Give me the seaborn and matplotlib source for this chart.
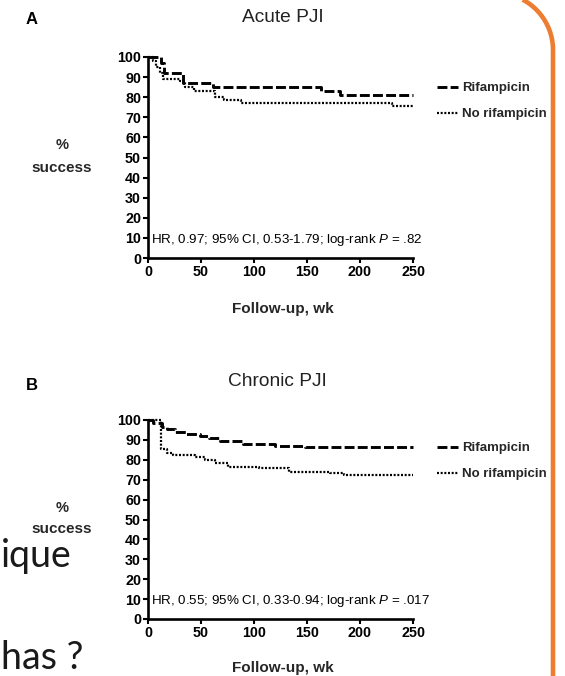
import numpy as np
import pandas as pd
import seaborn as sns
import matplotlib
matplotlib.use("Agg")
import matplotlib.pyplot as plt
from matplotlib.lines import Line2D

# Kaplan-Meier step values (weeks, % success)
acute_weeks_rif = [0, 12, 15, 33, 61, 163, 181, 250]
acute_pct_rif = [100, 97, 92, 87, 85, 83, 81, 81]
acute_weeks_norif = [0, 5, 8, 11, 14, 30, 35, 43, 63, 72, 88, 230, 250]
acute_pct_norif = [100, 98, 95, 92, 89, 88, 85, 83, 80, 78.5, 77, 75.5, 75.5]

chronic_weeks_rif = [0, 5, 13, 18, 25, 36, 49, 58, 68, 90, 120, 148, 250]
chronic_pct_rif = [100, 98.3, 96.5, 95.3, 93.8, 92.8, 92, 90.8, 89.5, 88, 87, 86.3, 86.3]
chronic_weeks_norif = [0, 12, 18, 24, 44, 54, 63, 75, 105, 133, 172, 185, 250]
chronic_pct_norif = [100, 85.5, 83.2, 82.4, 81.3, 79.9, 78.2, 76.5, 75.7, 74, 73.2, 72.4, 72.4]

groups = ["Rifampicin", "No rifampicin"]
panel_titles = ["Acute PJI", "Chronic PJI"]
panel_letters = ["A", "B"]
stats_text = [
    "HR, 0.97; 95% CI, 0.53-1.79; log-rank $\\it{P}$ = .82",
    "HR, 0.55; 95% CI, 0.33-0.94; log-rank $\\it{P}$ = .017",
]
x_ticks = [0, 50, 100, 150, 200, 250]
y_ticks = list(range(0, 101, 10))

sns.set_theme(style="ticks")
plt.rcParams["font.family"] = ["Liberation Sans", "DejaVu Sans"]
plt.rcParams["mathtext.fontset"] = "custom"
plt.rcParams["mathtext.it"] = "Liberation Sans:italic"

W, H = 565, 676
fig = plt.figure(figsize=(W / 100, H / 100), dpi=100)
fig.patch.set_facecolor("white")


def px(x, y):
    return x / W, 1 - y / H


panels = [
    (acute_weeks_rif, acute_pct_rif, acute_weeks_norif, acute_pct_norif),
    (chronic_weeks_rif, chronic_pct_rif, chronic_weeks_norif, chronic_pct_norif),
]
# pixel layout of each panel
layout = [
    dict(top=57, bot=258, title=17, letter=20, pct=145, succ=168, xlab=309, leg=82, title_x=283),
    dict(top=420, bot=619, title=381, letter=386, pct=508, succ=529, xlab=668, leg=442, title_x=277),
]

style = {
    "Rifampicin": dict(lw=2.1, ls=(0, (3.4, 1.1))),
    "No rifampicin": dict(lw=1.6, ls=(0, (0.9, 0.75))),
}

for i, (wr, pr, wn, pn) in enumerate(panels):
    L = layout[i]
    x0, x1 = 148, 413
    ax = fig.add_axes([x0 / W, 1 - L["bot"] / H, (x1 - x0) / W, (L["bot"] - L["top"]) / H])
    df = pd.concat([
        pd.DataFrame({"week": wr, "pct": pr, "group": groups[0]}),
        pd.DataFrame({"week": wn, "pct": pn, "group": groups[1]}),
    ])
    handles = []
    for g in groups:
        sub = df[df["group"] == g]
        sns.lineplot(data=sub, x="week", y="pct", ax=ax, color="black",
                     linewidth=style[g]["lw"], linestyle=style[g]["ls"],
                     drawstyle="steps-post", estimator=None, clip_on=False,
                     dash_capstyle="butt")
        handles.append(Line2D([], [], color="black", lw=style[g]["lw"], ls=style[g]["ls"],
                              dash_capstyle="butt"))
    ax.set_xlim(0, 250)
    ax.set_ylim(0, 100)
    ax.set_xticks(x_ticks)
    ax.set_yticks(y_ticks)
    ax.set_xlabel("")
    ax.set_ylabel("")
    sns.despine(ax=ax)
    for s in ["left", "bottom"]:
        ax.spines[s].set_linewidth(1.9)
        ax.spines[s].set_color("black")
    ax.tick_params(axis="both", length=3.5, width=1.5, color="black", pad=1.5,
                   labelsize=10.3, labelcolor="black")
    for lab in ax.get_xticklabels() + ax.get_yticklabels():
        lab.set_fontweight("bold")
    ax.set_facecolor("white")
    ax.text(3, 9, stats_text[i], fontsize=9.6, va="center", ha="left", color="black")

    fig.text(*px(L["title_x"], L["title"]), panel_titles[i], fontsize=13.8, ha="center",
             va="center", color="#222222")
    fig.text(*px(32, L["letter"]), panel_letters[i], fontsize=12, fontweight="bold",
             ha="center", va="center", color="black")
    fig.text(*px(62, L["pct"]), "%", fontsize=10.5, fontweight="bold", ha="center", va="center")
    fig.text(*px(62, L["succ"]), "success", fontsize=11, fontweight="bold", ha="center",
             va="center")
    fig.text(*px(283, L["xlab"]), "Follow-up, wk", fontsize=11, fontweight="bold",
             ha="center", va="center")
    fig.legend(handles, groups, loc="upper left", bbox_to_anchor=px(437, L["leg"]),
               frameon=False, handlelength=1.6, handletextpad=0.3,
               labelspacing=1.05, borderpad=0, borderaxespad=0,
               prop={"weight": "bold", "size": 9.5})

# slide text partly cut off at the left edge
fig.text(*px(1, 567), "ique", fontsize=27, family=["Lato", "DejaVu Sans"],
         ha="left", va="baseline", color="#1a1a1a")
fig.text(*px(1, 669), "has ?", fontsize=27, family=["Lato", "DejaVu Sans"],
         ha="left", va="baseline", color="#1a1a1a")

# orange rounded frame on the right
cx, cy, r = 496, 50, 57
t = np.linspace(np.deg2rad(62), 0, 40)
fx = np.concatenate([cx + r * np.cos(t), [cx + r, cx + r]])
fy = np.concatenate([cy - r * np.sin(t), [cy, H + 5]])
fig.add_artist(Line2D(fx / W, 1 - fy / H, transform=fig.transFigure, color="#ED7D31",
                      lw=3.3, solid_capstyle="butt"))

fig.savefig("out.png", dpi=100, facecolor="white")
